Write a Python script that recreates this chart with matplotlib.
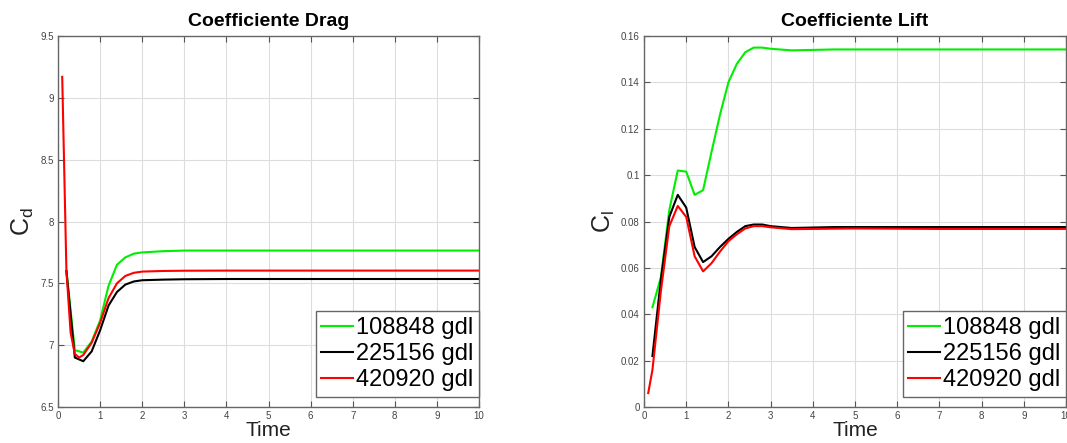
import numpy as np
import matplotlib
matplotlib.use("Agg")
import matplotlib.pyplot as plt

plt.rcParams['font.family'] = ['Liberation Sans', 'DejaVu Sans']

# drag coefficient, three meshes
t_cd_red = [0.1, 0.2, 0.3, 0.4, 0.5, 0.6, 0.8, 1.0, 1.2, 1.4, 1.6, 1.8, 2.0, 2.5, 3.0, 4.0, 6.0, 8.0, 10.0]
cd_red = [9.17, 7.60, 7.10, 6.93, 6.90, 6.92, 7.02, 7.18, 7.38, 7.50, 7.56, 7.585, 7.595, 7.60, 7.602, 7.603, 7.603, 7.603, 7.603]
t_cd = [0.2, 0.4, 0.6, 0.8, 1.0, 1.2, 1.4, 1.6, 1.8, 2.0, 2.5, 3.0, 4.0, 6.0, 8.0, 10.0]
cd_green = [7.60, 6.96, 6.94, 7.03, 7.20, 7.48, 7.65, 7.71, 7.74, 7.75, 7.76, 7.765, 7.765, 7.765, 7.765, 7.765]
cd_black = [7.60, 6.90, 6.87, 6.95, 7.12, 7.32, 7.43, 7.49, 7.515, 7.525, 7.53, 7.533, 7.535, 7.535, 7.535, 7.535]

# lift coefficient
t_cl = [0.2, 0.4, 0.6, 0.8, 1.0, 1.2, 1.4, 1.6, 1.8, 2.0, 2.2, 2.4, 2.6, 2.8, 3.0, 3.5, 4.0, 4.5, 5.0, 7.0, 10.0]
cl_green = [0.043, 0.056, 0.085, 0.102, 0.1015, 0.0915, 0.0935, 0.110, 0.126, 0.140, 0.148, 0.153, 0.155, 0.155, 0.1545, 0.1538, 0.154, 0.1542, 0.1542, 0.1542, 0.1542]
cl_black = [0.022, 0.055, 0.082, 0.0915, 0.086, 0.069, 0.0625, 0.065, 0.069, 0.0725, 0.0755, 0.078, 0.0787, 0.0787, 0.078, 0.0772, 0.0774, 0.0776, 0.0776, 0.0776, 0.0776]
t_cl_red = [0.1, 0.2, 0.4, 0.6, 0.8, 1.0, 1.2, 1.4, 1.6, 1.8, 2.0, 2.2, 2.4, 2.6, 2.8, 3.0, 3.5, 4.0, 5.0, 7.0, 10.0]
cl_red = [0.006, 0.016, 0.050, 0.078, 0.0867, 0.082, 0.065, 0.0585, 0.062, 0.067, 0.0715, 0.0745, 0.077, 0.078, 0.078, 0.0775, 0.0767, 0.0768, 0.077, 0.0768, 0.0768]

labels = ['108848 gdl', '225156 gdl', '420920 gdl']
colori = ['#00ee00', 'black', '#ff0000']

fig = plt.figure(figsize=(10.67, 4.43), dpi=100)
ax1 = fig.add_axes([58/1067, 36/443, 421/1067, 371/443])
ax2 = fig.add_axes([644/1067, 36/443, 422/1067, 371/443])


def stile(ax, titolo, ylab):
    ax.set_xlim(0, 10)
    ax.set_xticks(range(0, 11))
    ax.grid(True, color='#dddddd', linewidth=0.8)
    ax.set_axisbelow(True)
    ax.tick_params(direction='in', top=True, right=True, labelsize=7,
                   labelcolor='#444444', color='#555555', length=4, pad=3)
    for s in ax.spines.values():
        s.set_color('#666666')
        s.set_linewidth(1.0)
    ax.set_title(titolo, fontsize=14, fontweight='bold', pad=7)
    ax.set_xlabel('Time', fontsize=15, labelpad=0, color='#222222')
    ax.set_ylabel(ylab, fontsize=18, labelpad=3, color='#222222')
    leg = ax.legend(labels, loc='lower right', bbox_to_anchor=(1.0, 0.027),
                    borderaxespad=0, fontsize=17, fancybox=False,
                    edgecolor='#666666', framealpha=1, labelspacing=0.17,
                    handlelength=1.35, handletextpad=0.1, borderpad=0.25)
    leg.get_frame().set_linewidth(1.0)


ax1.plot(t_cd, cd_green, color=colori[0], lw=1.5)
ax1.plot(t_cd, cd_black, color=colori[1], lw=1.5)
ax1.plot(t_cd_red, cd_red, color=colori[2], lw=1.5)
ax1.set_ylim(6.5, 9.5)
ax1.set_yticks([6.5, 7, 7.5, 8, 8.5, 9, 9.5])
ax1.set_yticklabels(['6.5', '7', '7.5', '8', '8.5', '9', '9.5'])
stile(ax1, 'Coefficiente Drag', r'$\mathregular{C_d}$')

ax2.plot(t_cl, cl_green, color=colori[0], lw=1.5)
ax2.plot(t_cl, cl_black, color=colori[1], lw=1.5)
ax2.plot(t_cl_red, cl_red, color=colori[2], lw=1.5)
ax2.set_ylim(0, 0.16)
ax2.set_yticks(np.arange(0, 0.161, 0.02))
ax2.set_yticklabels(['0', '0.02', '0.04', '0.06', '0.08', '0.1', '0.12', '0.14', '0.16'])
stile(ax2, 'Coefficiente Lift', r'$\mathregular{C_l}$')

fig.savefig('out.png', dpi=100)
